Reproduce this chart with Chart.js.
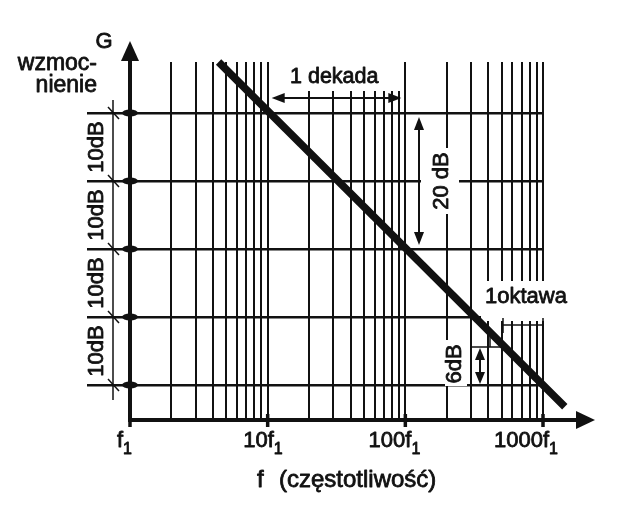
<!DOCTYPE html>
<html>
<head>
<meta charset="utf-8">
<script src="https://cdn.jsdelivr.net/npm/chart.js@4/dist/chart.umd.min.js"></script>
<style>
  html, body { margin: 0; padding: 0; background: #fff; }
  canvas { display: block; }
</style>
</head>
<body>
<canvas id="bode" width="621" height="508"></canvas>
<script>
// frequency grid (multiples of f1) and decade labels
const gridFreqs = [1, 2, 3, 4, 5, 6, 7, 8, 9, 10, 20, 30, 40, 50, 60, 70, 80, 90, 100, 200, 300, 400, 500, 600, 700, 800, 900, 1000];
const decadeFreqs = [1, 10, 100, 1000];
const decadeLabels = ['f', '10f', '100f', '1000f'];
// gain gridlines (dB) and the step labels between them
const gainTicks = [0, 10, 20, 30, 40];
const stepLabels = ['10dB', '10dB', '10dB', '10dB'];
// -20 dB/decade response
const responseFreq = [4.4, 1440];
const responseGain = [47.5, -3.2];

const INK = '#111';
const FONT = '"Liberation Sans", Arial, sans-serif';

function line(ctx, x1, y1, x2, y2, w) {
    ctx.lineWidth = w;
    ctx.beginPath();
    ctx.moveTo(x1, y1);
    ctx.lineTo(x2, y2);
    ctx.stroke();
}

function head(ctx, tx, ty, dx, dy, len, half) {
    // arrow head with tip at (tx,ty) pointing along (dx,dy)
    const bx = tx - dx * len, by = ty - dy * len;
    ctx.beginPath();
    ctx.moveTo(tx, ty);
    ctx.lineTo(bx - dy * half, by + dx * half);
    ctx.lineTo(bx + dy * half, by - dx * half);
    ctx.closePath();
    ctx.fill();
}

function text(ctx, str, x, y, size, align, rot) {
    ctx.save();
    ctx.translate(x, y);
    if (rot) ctx.rotate(rot);
    ctx.font = size + 'px ' + FONT;
    ctx.textAlign = align || 'left';
    ctx.textBaseline = rot ? 'middle' : 'alphabetic';
    ctx.lineWidth = 0.8; // scanned print looks a bit heavier
    ctx.lineJoin = 'round';
    ctx.fillText(str, 0, 0);
    ctx.strokeText(str, 0, 0);
    ctx.restore();
}

function mask(ctx, x, y, w, h) {
    ctx.fillStyle = '#fff';
    ctx.fillRect(x, y, w, h);
    ctx.fillStyle = INK;
}

const annotations = {
    id: 'annotations',
    beforeDatasetsDraw(chart) {
        const ctx = chart.ctx;
        const xs = chart.scales.x, ys = chart.scales.y;
        const area = chart.chartArea;
        const ax = xs.getPixelForValue(1);
        const ay = area.bottom;
        ctx.save();
        ctx.strokeStyle = INK;
        ctx.fillStyle = INK;
        ctx.lineCap = 'butt';

        // gaps in the grid behind the labels
        const x10 = xs.getPixelForValue(10), x100 = xs.getPixelForValue(100);
        mask(ctx, x10 + 3, area.top - 2, x100 - x10 - 5, 31);
        mask(ctx, 421, 148, 38, 66);
        mask(ctx, 481, 281, 66, 40);
        mask(ctx, 445, 340, 22, 46);

        // axes with arrow heads
        line(ctx, ax, ay + 2, ax, 60, 4);
        head(ctx, ax, 41, 0, -1, 20, 9);
        line(ctx, ax - 2, ay, 578, ay, 4);
        head(ctx, 595, ay, 1, 0, 19, 9);

        // knots where gridlines meet the gain axis, ticks on the f axis
        ys.ticks.forEach(t => {
            const y = ys.getPixelForValue(t.value);
            ctx.beginPath();
            ctx.ellipse(ax, y, 8, 3.5, 0, 0, Math.PI * 2);
            ctx.fill();
        });
        decadeFreqs.forEach(f => {
            const x = xs.getPixelForValue(f);
            line(ctx, x, ay - 6, x, ay + 7, 3.5);
        });

        // decade labels f1 ... 1000f1
        decadeFreqs.forEach((f, i) => {
            const x = xs.getPixelForValue(f);
            ctx.font = '22px ' + FONT;
            const wMain = ctx.measureText(decadeLabels[i]).width;
            ctx.font = '16px ' + FONT;
            const wSub = ctx.measureText('1').width;
            const left = i === 0 ? x - 13 : x + 15 - wMain - wSub;
            text(ctx, decadeLabels[i], left, 447, 22);
            text(ctx, '1', left + wMain, 454, 16);
        });
        text(ctx, 'f', 257, 487, 24);
        text(ctx, '(częstotliwość)', 279, 487, 24);

        // gain axis title
        text(ctx, 'G', 104, 48, 22, 'center');
        text(ctx, 'wzmoc-', 97, 70, 23, 'right');
        text(ctx, 'nienie', 97, 92, 23, 'right');

        // 10 dB step bracket on the left
        const yTop = ys.getPixelForValue(gainTicks[gainTicks.length - 1]);
        const yBot = ys.getPixelForValue(gainTicks[0]);
        line(ctx, 113, yTop - 13, 113, yBot + 15, 1.5);
        gainTicks.forEach(g => {
            const y = ys.getPixelForValue(g);
            line(ctx, 108, y - 6, 119, y + 6, 1.5);
        });
        stepLabels.forEach((s, i) => {
            const y = (ys.getPixelForValue(gainTicks[i]) + ys.getPixelForValue(gainTicks[i + 1])) / 2;
            text(ctx, s, 97, y, 22, 'center', -Math.PI / 2);
        });

        // one decade
        text(ctx, '1 dekada', 290, 83, 21.5);
        line(ctx, x10 + 12, 98, x100 - 14, 98, 2);
        head(ctx, x10 + 4, 98, -1, 0, 13, 5);
        head(ctx, x100 - 4, 98, 1, 0, 13, 5);

        // 20 dB per decade
        const y40 = ys.getPixelForValue(40), y20 = ys.getPixelForValue(20);
        line(ctx, 419, y40 + 14, 419, y20 - 14, 2);
        head(ctx, 419, y40 + 4, 0, -1, 13, 5);
        head(ctx, 419, y20 - 4, 0, 1, 13, 5);
        text(ctx, '20 dB', 442, (y40 + y20) / 2, 22, 'center', -Math.PI / 2);

        // one octave, 6 dB
        text(ctx, '1oktawa', 485, 303, 22);
        line(ctx, 503, 325, 543, 325, 1.5);
        line(ctx, 503, 318, 503, 333, 1.5);
        line(ctx, 543, 318, 543, 333, 1.5);
        line(ctx, 490, 337, 490, 347, 1.5);
        line(ctx, 470, 347, 505, 347, 1.5);
        const y0 = ys.getPixelForValue(0);
        line(ctx, 480, 358, 480, y0 - 11, 2);
        head(ctx, 480, 348, 0, -1, 12, 5);
        head(ctx, 480, y0 - 1, 0, 1, 12, 5);
        text(ctx, '6dB', 455, 364, 22, 'center', -Math.PI / 2);

        ctx.restore();
    }
};

new Chart(document.getElementById('bode'), {
    type: 'line',
    data: {
        datasets: [{
            data: responseFreq.map((f, i) => ({ x: f, y: responseGain[i] })),
            borderColor: INK,
            borderWidth: 7.5,
            borderCapStyle: 'butt',
            pointRadius: 0,
            tension: 0,
            clip: false
        }]
    },
    options: {
        responsive: false,
        animation: false,
        devicePixelRatio: 1,
        layout: { padding: { left: 87, right: 78, top: 62, bottom: 88 } },
        plugins: { legend: { display: false }, tooltip: { enabled: false } },
        scales: {
            x: {
                type: 'logarithmic',
                min: 1,
                max: 1000,
                afterBuildTicks: s => { s.ticks = gridFreqs.map(v => ({ value: v })); },
                ticks: { display: false },
                grid: { color: INK, lineWidth: 2, drawTicks: false },
                border: { display: false }
            },
            y: {
                type: 'linear',
                min: -5.15,
                max: 47.5,
                afterBuildTicks: s => { s.ticks = gainTicks.map(v => ({ value: v })); },
                ticks: { display: false },
                grid: { color: INK, lineWidth: 2.6, drawTicks: true, tickLength: 43 },
                border: { display: false }
            }
        }
    },
    plugins: [annotations]
});
</script>
</body>
</html>
